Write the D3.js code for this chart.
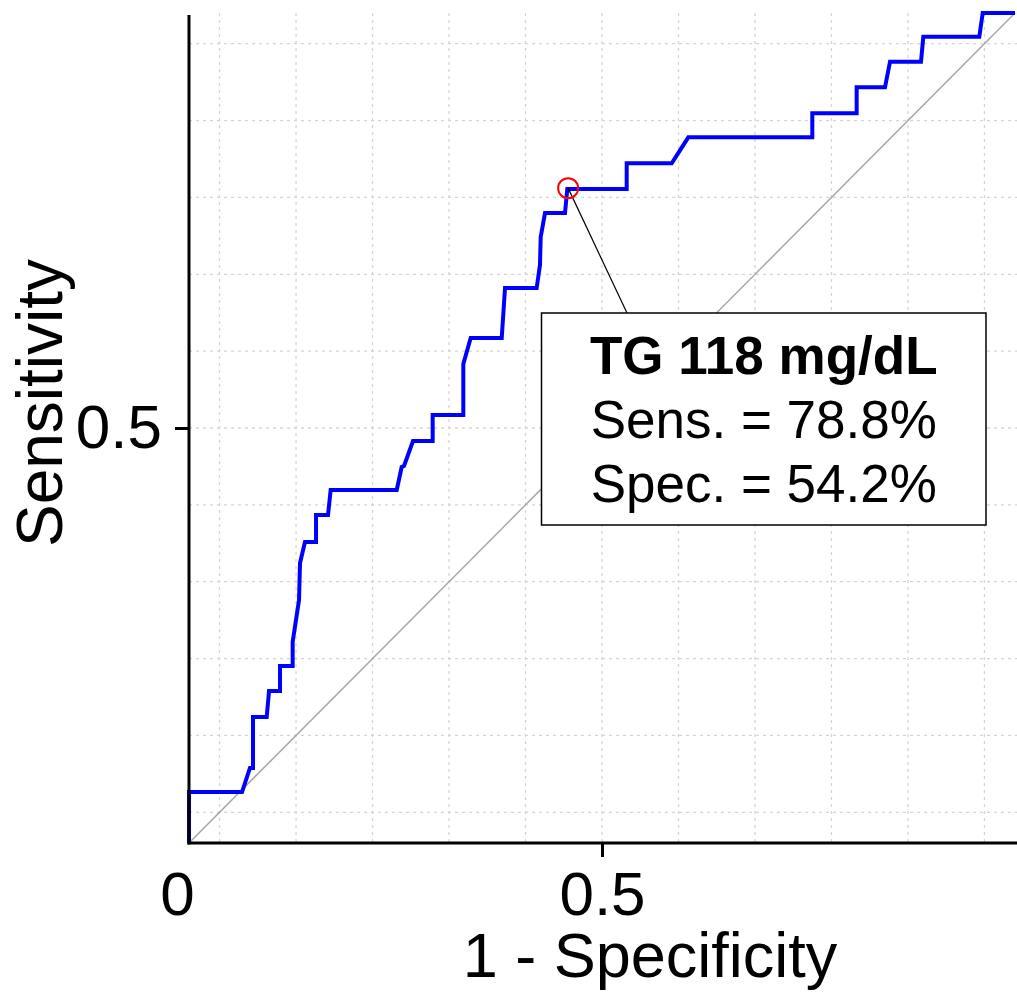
<!DOCTYPE html>
<html>
<head>
<meta charset="utf-8">
<script src="https://cdn.jsdelivr.net/npm/d3@7"></script>
<style>
  html, body { margin: 0; padding: 0; background: #fff; }
  svg { display: block; font-family: "Liberation Sans", Arial, sans-serif; }
</style>
</head>
<body>
<svg id="chart" width="1017" height="994"></svg>
<script>
// ---- data ----
const fpr = [0, 0, 0.0642, 0.0738, 0.0775, 0.0775, 0.0941, 0.0969, 0.1102, 0.1102, 0.1255, 0.1255,
  0.1332, 0.1344, 0.1404, 0.1538, 0.1538, 0.1683, 0.1715, 0.2515, 0.2575, 0.2603, 0.2712, 0.2950,
  0.2950, 0.3321, 0.3321, 0.3410, 0.3786, 0.3826, 0.4209, 0.4249, 0.4258, 0.4310, 0.4552, 0.458,
  0.5299, 0.5299, 0.5844, 0.6045, 0.7546, 0.7546, 0.8083, 0.8083, 0.8426, 0.8487, 0.8862, 0.8890,
  0.9568, 0.9609, 1.0];
const tpr = [0, 0.0614, 0.0614, 0.0904, 0.0904, 0.1518, 0.1518, 0.1831, 0.1831, 0.2133, 0.2133, 0.2422,
  0.2928, 0.3373, 0.3627, 0.3627, 0.3952, 0.3952, 0.4253, 0.4253, 0.4530, 0.4542, 0.4843, 0.4843,
  0.5157, 0.5157, 0.5771, 0.6084, 0.6084, 0.6687, 0.6687, 0.6964, 0.7301, 0.7590, 0.7590, 0.788,
  0.788, 0.8189, 0.8189, 0.8502, 0.8502, 0.8792, 0.8792, 0.9105, 0.9105, 0.9413, 0.9413, 0.9714,
  0.9714, 1.0, 1.0];
const xTickValues = [0, 0.5];
const xTickLabels = ["0", "0.5"];
const yTickValues = [0.5];
const yTickLabels = ["0.5"];
const gridValues = [0.037, 0.1296, 0.2222, 0.3148, 0.4074, 0.5, 0.5926, 0.6852, 0.7778, 0.8704, 0.963];
const cutoff = { fpr: 0.459, tpr: 0.789 };
const annotationLines = ["TG 118 mg/dL", "Sens. = 78.8%", "Spec. = 54.2%"];
const xLabel = "1 - Specificity";
const yLabel = "Sensitivity";

// ---- layout ----
const svg = d3.select("#chart");
const x = d3.scaleLinear().domain([0, 1]).range([189, 1015]);
const y = d3.scaleLinear().domain([0, 1]).range([843, 13]);

// grid
const grid = svg.append("g").attr("stroke", "#d4d4d4").attr("stroke-width", 1.3)
  .attr("stroke-dasharray", "3,4");
grid.selectAll("line.v").data(gridValues).join("line").attr("class", "v")
  .attr("x1", d => x(d)).attr("x2", d => x(d)).attr("y1", y(1)).attr("y2", y(0));
grid.selectAll("line.h").data(gridValues).join("line").attr("class", "h")
  .attr("y1", d => y(d)).attr("y2", d => y(d)).attr("x1", x(0)).attr("x2", 1017);

// diagonal
svg.append("line")
  .attr("x1", x(0)).attr("y1", y(0)).attr("x2", x(1)).attr("y2", y(1))
  .attr("stroke", "#a6a6a6").attr("stroke-width", 1.5);

// ROC curve
const pts = fpr.map((f, i) => [f, tpr[i]]);
svg.append("path")
  .datum(pts)
  .attr("d", d3.line().x(d => x(d[0])).y(d => y(d[1])))
  .attr("fill", "none").attr("stroke", "#0000ff").attr("stroke-width", 4)
  .attr("stroke-linejoin", "miter");

// axes
const xAxis = d3.axisBottom(x).tickValues(xTickValues)
  .tickFormat((d, i) => xTickLabels[i]).tickSize(14).tickPadding(14);
const gx = svg.append("g").attr("transform", `translate(0,${y(0)})`).call(xAxis);
gx.select(".domain").remove();
gx.append("line").attr("x1", x(0) - 1.5).attr("x2", 1017).attr("stroke", "#000").attr("stroke-width", 3);
gx.selectAll(".tick line").attr("stroke", "#000").attr("stroke-width", 3)
  .filter(d => d === 0).remove();
gx.selectAll(".tick text").attr("font-size", 62).attr("fill", "#000")
  .attr("font-family", "Liberation Sans, Arial, sans-serif")
  .attr("dx", d => d === 0 ? -12 : 0);

const yAxis = d3.axisLeft(y).tickValues(yTickValues)
  .tickFormat((d, i) => yTickLabels[i]).tickSize(14).tickPadding(13);
const gy = svg.append("g").attr("transform", `translate(${x(0)},0)`).call(yAxis);
gy.select(".domain").remove();
gy.append("line").attr("y1", y(1) + 2).attr("y2", y(0) + 1.5).attr("stroke", "#000").attr("stroke-width", 3);
gy.selectAll(".tick line").attr("stroke", "#000").attr("stroke-width", 3);
gy.selectAll(".tick text").attr("font-size", 62).attr("fill", "#000")
  .attr("font-family", "Liberation Sans, Arial, sans-serif");

// axis labels
svg.append("text").attr("x", 650).attr("y", 977).attr("text-anchor", "middle")
  .attr("font-size", 63).attr("fill", "#000").text(xLabel);
svg.append("text").attr("transform", "translate(62,403) rotate(-90)").attr("text-anchor", "middle")
  .attr("font-size", 64).attr("fill", "#000").text(yLabel);

// annotation
const box = { x0: 541.5, y0: 313, x1: 986, y1: 525 };
const cx = x(cutoff.fpr), cy = y(cutoff.tpr);
svg.append("line").attr("x1", cx).attr("y1", cy).attr("x2", 627).attr("y2", box.y0)
  .attr("stroke", "#000").attr("stroke-width", 1.2);
svg.append("rect").attr("x", box.x0).attr("y", box.y0)
  .attr("width", box.x1 - box.x0).attr("height", box.y1 - box.y0)
  .attr("fill", "#fff").attr("stroke", "#000").attr("stroke-width", 1.5);
const tx = (box.x0 + box.x1) / 2;
svg.selectAll("text.ann").data(annotationLines).join("text").attr("class", "ann")
  .attr("x", tx).attr("y", (d, i) => 374 + i * 64).attr("text-anchor", "middle")
  .attr("font-size", 53).attr("font-weight", (d, i) => i === 0 ? "bold" : "normal")
  .attr("fill", "#000").text(d => d);

// cutoff marker
svg.append("circle").attr("cx", cx).attr("cy", cy).attr("r", 10)
  .attr("fill", "none").attr("stroke", "#ff0000").attr("stroke-width", 2);
</script>
</body>
</html>
